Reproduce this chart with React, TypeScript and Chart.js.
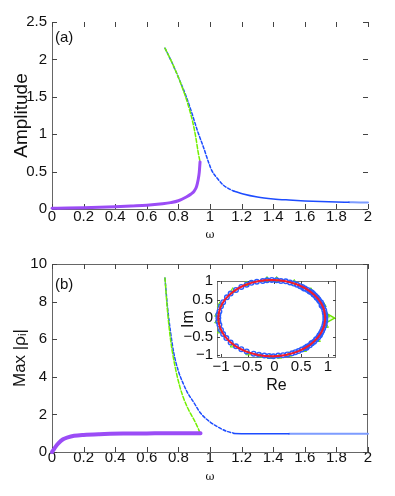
import React, { useEffect, useRef } from 'react';
import { Chart, registerables } from 'chart.js';
Chart.register(...registerables);

// ---------- tick values ----------
const omegaTicks = [0, 0.2, 0.4, 0.6, 0.8, 1, 1.2, 1.4, 1.6, 1.8, 2];
const ampTicks = [0, 0.5, 1, 1.5, 2, 2.5];
const rhoTicks = [0, 2, 4, 6, 8, 10];
const reTicks = [-1, -0.5, 0, 0.5, 1];
const imTicks = [-1, -0.5, 0, 0.5, 1];

// ---------- panel (a) ----------
const aPurpleW = [0, 0.1, 0.2, 0.3, 0.4, 0.5, 0.6, 0.7, 0.75, 0.8, 0.85, 0.88, 0.9, 0.915, 0.925, 0.932, 0.937];
const aPurpleAmp = [0.01, 0.012, 0.016, 0.022, 0.03, 0.04, 0.05, 0.07, 0.085, 0.11, 0.16, 0.2, 0.24, 0.3, 0.39, 0.49, 0.63];
const aGreenW = [0.715, 0.75, 0.79, 0.82, 0.85, 0.87, 0.89, 0.91, 0.925, 0.937];
const aGreenAmp = [2.15, 2.0, 1.81, 1.65, 1.47, 1.33, 1.17, 0.96, 0.76, 0.63];
const aBlueDashW = [0.715, 0.75, 0.79, 0.82, 0.85, 0.884, 0.92, 0.958, 0.99, 1.01, 1.05, 1.084, 1.12, 1.15];
const aBlueDashAmp = [2.15, 2.0, 1.81, 1.66, 1.5, 1.29, 1.05, 0.83, 0.63, 0.52, 0.4, 0.32, 0.27, 0.24];
const aBlueW = [1.15, 1.21, 1.3, 1.4, 1.5, 1.6, 1.7, 1.8, 1.88];
const aBlueAmp = [0.24, 0.2, 0.16, 0.135, 0.12, 0.108, 0.1, 0.094, 0.09];
const aBlueLightW = [1.88, 1.95, 2.0];
const aBlueLightAmp = [0.09, 0.087, 0.086];

// ---------- panel (b) ----------
const bPurpleW = [0, 0.01, 0.02, 0.04, 0.07, 0.1, 0.14, 0.2, 0.3, 0.45, 0.6, 0.75, 0.94];
const bPurpleRho = [0, 0.12, 0.25, 0.46, 0.68, 0.78, 0.86, 0.91, 0.95, 0.98, 0.99, 1.0, 1.0];
const bGreenW = [0.715, 0.73, 0.75, 0.78, 0.81, 0.84, 0.87, 0.9, 0.92, 0.94];
const bGreenRho = [9.25, 7.6, 6.0, 4.5, 3.45, 2.7, 2.15, 1.7, 1.35, 0.95];
const bBlueDashW = [0.715, 0.73, 0.75, 0.77, 0.8, 0.83, 0.855, 0.9, 0.94, 1.0, 1.05, 1.1, 1.15];
const bBlueDashRho = [9.25, 7.8, 6.4, 5.3, 4.3, 3.65, 3.2, 2.6, 2.07, 1.6, 1.33, 1.12, 1.0];
const bBlueW = [1.15, 1.3, 1.5];
const bBlueRho = [0.98, 0.97, 0.97];
const bBlueLightW = [1.5, 1.75, 2.0];
const bBlueLightRho = [0.97, 0.97, 0.97];

// ---------- inset (complex plane) ----------
const redRe = [0.95, 0.916, 0.816, 0.657, 0.45, 0.209, -0.05, -0.309, -0.55, -0.757, -0.916, -1.016, -1.05, -1.016, -0.916, -0.757, -0.55, -0.309, -0.05, 0.209, 0.45, 0.657, 0.816, 0.916, 0.95];
const redIm = [0, 0.267, 0.515, 0.728, 0.892, 0.995, 1.03, 0.995, 0.892, 0.728, 0.515, 0.267, 0, -0.267, -0.515, -0.728, -0.892, -0.995, -1.03, -0.995, -0.892, -0.728, -0.515, -0.267, 0];
const blueRe = [
  0.95, 0.94, 0.91, 0.87, 0.82, 0.76, 0.7, 0.62, 0.52, 0.42, 0.29, 0.12, -0.05, -0.22, -0.43, -0.62, -0.82, -0.96, -1.03, -1.05,
  -1.03, -0.96, -0.82, -0.62, -0.39, -0.19, -0.02, 0.16, 0.33, 0.45, 0.57, 0.66, 0.74, 0.82, 0.87, 0.91, 0.94, 0.88, 0.79, 0.73,
  0.66, 0.55, 0.6, 0.7, 0.78, 0.85,
  0.95, 0.93, 0.89, 0.84, 0.79, 0.73, 0.66, 0.57, 0.48, 0.36, 0.21, 0.04, -0.14, -0.33, -0.52, -0.72, -0.89, -1.0, -1.05, -1.05,
  -1.0, -0.9, -0.72, -0.52, -0.29, -0.1, 0.07, 0.24, 0.39, 0.51, 0.61, 0.69, 0.78, 0.84, 0.89, 0.93, 0.95,
];
const blueIm = [
  0, 0.14, 0.29, 0.42, 0.51, 0.6, 0.69, 0.76, 0.84, 0.9, 0.96, 1.0, 1.03, 1.0, 0.95, 0.84, 0.66, 0.43, 0.18, 0,
  -0.18, -0.43, -0.66, -0.84, -0.96, -1.01, -1.03, -1.0, -0.95, -0.89, -0.81, -0.73, -0.64, -0.52, -0.4, -0.28, -0.14, 0.34, 0.55, 0.64,
  0.72, 0.8, -0.8, -0.68, -0.58, -0.46,
  0.07, 0.21, 0.35, 0.46, 0.56, 0.64, 0.72, 0.8, 0.86, 0.93, 0.99, 1.02, 1.02, 0.98, 0.9, 0.76, 0.56, 0.32, 0.09, -0.09,
  -0.32, -0.54, -0.76, -0.9, -0.99, -1.02, -1.01, -0.98, -0.92, -0.85, -0.77, -0.68, -0.57, -0.46, -0.35, -0.21, -0.07,
];
const greenRe = [0.98, 0.92, 0.68, 0.37, 0.04, -0.14, -0.53, -0.78, -1.02, -1.07, -1.07, -1.02, -0.78, -0.49, -0.26, -0.09, 0.09, 0.27, 0.55, 0.81, 0.96];
const greenIm = [0.07, 0.35, 0.74, 0.96, 1.04, 1.04, 0.92, 0.74, 0.36, 0.09, -0.09, -0.36, -0.74, -0.95, -1.02, -1.05, -1.04, -0.99, -0.86, -0.59, -0.21];
const greenBigRe = [1.03];
const greenBigIm = [0];

// ---------- helpers ----------
const FONT = "'Liberation Sans', Arial, sans-serif";
const TEXT = '#111';
const PURPLE = '#9b4cf6';
const GREEN = '#72f000';
const BLUE = '#1d4cff';
const LIGHTBLUE = '#7d9cff';
const RED = '#f21c2c';

const pts = (xs: number[], ys: number[]) => xs.map((x, i) => ({ x, y: ys[i] }));

const line = (xs: number[], ys: number[], color: string, width: number, dash: number[] = []) => ({
  data: pts(xs, ys),
  borderColor: color,
  backgroundColor: color,
  borderWidth: width,
  borderDash: dash,
  borderCapStyle: 'round',
  pointRadius: 0,
  fill: false,
  cubicInterpolationMode: 'monotone' as const,
  clip: false as any,
});

const fmt = (v: number) => String(v).replace('-', '\u2212');

function frame(len: number, box: boolean, ticksOnTopRight: boolean, color = '#666') {
  return {
    id: 'frame',
    beforeDatasetsDraw(chart: any) {
      const { ctx, chartArea, scales } = chart;
      const { left, right, top, bottom } = chartArea;
      const x = scales.x, y = scales.y;
      ctx.save();
      ctx.strokeStyle = color;
      ctx.lineWidth = 1;
      ctx.beginPath();
      ctx.moveTo(left + 0.5, top);
      ctx.lineTo(left + 0.5, bottom + 0.5);
      ctx.lineTo(right, bottom + 0.5);
      if (box) {
        ctx.moveTo(left, top + 0.5);
        ctx.lineTo(right - 0.5, top + 0.5);
        ctx.lineTo(right - 0.5, bottom);
      }
      ctx.stroke();
      ctx.strokeStyle = '#444';
      ctx.beginPath();
      x.ticks.forEach((t: any) => {
        const px = Math.round(x.getPixelForValue(t.value)) + 0.5;
        ctx.moveTo(px, bottom);
        ctx.lineTo(px, bottom - len);
        if (ticksOnTopRight) {
          ctx.moveTo(px, top);
          ctx.lineTo(px, top + len);
        }
      });
      y.ticks.forEach((t: any) => {
        const py = Math.round(y.getPixelForValue(t.value)) + 0.5;
        ctx.moveTo(left, py);
        ctx.lineTo(left + len, py);
        if (ticksOnTopRight) {
          ctx.moveTo(right, py);
          ctx.lineTo(right - len, py);
        }
      });
      ctx.stroke();
      ctx.restore();
    },
  };
}

function panelLabel(text: string, x: number, y: number) {
  return {
    id: 'panelLabel',
    afterDraw(chart: any) {
      const ctx = chart.ctx;
      ctx.save();
      ctx.font = `15px ${FONT}`;
      ctx.fillStyle = TEXT;
      ctx.textBaseline = 'middle';
      ctx.textAlign = 'left';
      ctx.fillText(text, x, y);
      ctx.restore();
    },
  };
}

function mainConfig(opts: {
  datasets: any[];
  yMax: number;
  yTicks: number[];
  yTitle: string;
  yTitleSize: number;
  top: number;
  xAxisH: number;
  xTickPad: number;
  xTitlePad: number;
  label: string;
  labelY: number;
  box: boolean;
}) {
  return {
    type: 'line',
    data: { datasets: opts.datasets },
    options: {
      animation: false,
      responsive: false,
      maintainAspectRatio: false,
      events: [],
      layout: { padding: { left: 0, right: 27, top: opts.top, bottom: 0 } },
      plugins: { legend: { display: false }, tooltip: { enabled: false } },
      scales: {
        x: {
          type: 'linear',
          min: 0,
          max: 2,
          afterBuildTicks: (s: any) => { s.ticks = omegaTicks.map((v) => ({ value: v })); },
          afterFit: (s: any) => { s.height = opts.xAxisH; },
          grid: { display: false, drawTicks: false },
          border: { display: false },
          ticks: {
            padding: opts.xTickPad,
            autoSkip: false,
            maxRotation: 0,
            color: TEXT,
            font: { family: FONT, size: 15 },
            callback: (v: any) => fmt(v),
          },
          title: {
            display: true,
            text: 'ω',
            color: TEXT,
            font: { family: "'DejaVu Serif', serif", size: 11 },
            padding: { top: 0, bottom: opts.xTitlePad },
          },
        },
        y: {
          type: 'linear',
          min: 0,
          max: opts.yMax,
          afterBuildTicks: (s: any) => { s.ticks = opts.yTicks.map((v) => ({ value: v })); },
          afterFit: (s: any) => { s.width = 52; },
          grid: { display: false, drawTicks: false },
          border: { display: false },
          ticks: {
            padding: 5,
            autoSkip: false,
            color: TEXT,
            font: { family: FONT, size: 15 },
            callback: (v: any) => fmt(v),
          },
          title: {
            display: true,
            text: opts.yTitle,
            color: TEXT,
            font: { family: FONT, size: opts.yTitleSize },
            padding: { top: 10, bottom: 0 },
          },
        },
      },
    },
    plugins: [frame(5, opts.box, true), panelLabel(opts.label, 55, opts.labelY)],
  } as any;
}

function insetConfig() {
  return {
    type: 'scatter',
    data: {
      datasets: [
        {
          data: pts(redRe, redIm),
          showLine: true,
          borderColor: RED,
          borderWidth: 2,
          pointRadius: 0,
          tension: 0.4,
          clip: false,
        },
        {
          data: pts(blueRe, blueIm),
          pointStyle: 'circle',
          pointRadius: 2.3,
          pointBorderWidth: 1.4,
          borderColor: '#2a5cff',
          backgroundColor: 'rgba(0,0,0,0)',
          clip: false,
        },
        {
          data: pts(greenRe, greenIm),
          pointStyle: 'triangle',
          pointRadius: 3,
          pointBorderWidth: 1,
          borderColor: '#6ee600',
          backgroundColor: 'rgba(150,255,60,0.7)',
          clip: false,
        },
        {
          data: pts(greenBigRe, greenBigIm),
          pointStyle: 'triangle',
          pointRotation: 90,
          pointRadius: 5,
          pointBorderWidth: 1.4,
          borderColor: '#6ee600',
          backgroundColor: 'rgba(200,255,150,0.5)',
          clip: false,
        },
      ],
    },
    options: {
      animation: false,
      responsive: false,
      maintainAspectRatio: false,
      events: [],
      layout: { padding: { left: 0, right: 14, top: 13, bottom: 0 } },
      plugins: { legend: { display: false }, tooltip: { enabled: false } },
      scales: {
        x: {
          type: 'linear',
          min: -1.075,
          max: 1.15,
          afterBuildTicks: (s: any) => { s.ticks = reTicks.map((v) => ({ value: v })); },
          afterFit: (s: any) => { s.height = 41; },
          grid: { display: false, drawTicks: false },
          border: { display: false },
          ticks: {
            padding: 1,
            autoSkip: false,
            maxRotation: 0,
            color: TEXT,
            font: { family: FONT, size: 15 },
            callback: (v: any) => fmt(v),
          },
          title: {
            display: true,
            text: 'Re',
            color: TEXT,
            font: { family: FONT, size: 16 },
            padding: { top: 0, bottom: 3 },
          },
        },
        y: {
          type: 'linear',
          min: -1.05,
          max: 1.0,
          afterBuildTicks: (s: any) => { s.ticks = imTicks.map((v) => ({ value: v })); },
          afterFit: (s: any) => { s.width = 57; },
          grid: { display: false, drawTicks: false },
          border: { display: false },
          ticks: {
            padding: 4,
            autoSkip: false,
            color: TEXT,
            font: { family: FONT, size: 15 },
            callback: (v: any) => fmt(v),
          },
          title: {
            display: true,
            text: 'Im',
            color: TEXT,
            font: { family: FONT, size: 16 },
            padding: { top: 19, bottom: 0 },
          },
        },
      },
    },
    plugins: [frame(3, true, true, '#777')],
  } as any;
}

export default function App() {
  const aRef = useRef<HTMLCanvasElement>(null);
  const bRef = useRef<HTMLCanvasElement>(null);
  const cRef = useRef<HTMLCanvasElement>(null);

  useEffect(() => {
    const a = new Chart(
      aRef.current!,
      mainConfig({
        datasets: [
          line(aPurpleW, aPurpleAmp, PURPLE, 3),
          line(aGreenW, aGreenAmp, GREEN, 1.5, [4, 2]),
          line(aBlueDashW, aBlueDashAmp, BLUE, 1.5, [3, 2]),
          line(aBlueW, aBlueAmp, BLUE, 1.5),
          line(aBlueLightW, aBlueLightAmp, LIGHTBLUE, 2),
        ],
        yMax: 2.5,
        yTicks: ampTicks,
        yTitle: 'Amplitude',
        yTitleSize: 19,
        top: 22,
        xAxisH: 31,
        xTickPad: -1,
        xTitlePad: -2,
        label: '(a)',
        labelY: 38,
        box: false,
      })
    );
    const b = new Chart(
      bRef.current!,
      mainConfig({
        datasets: [
          line(bPurpleW, bPurpleRho, PURPLE, 4),
          line(bGreenW, bGreenRho, GREEN, 1.5, [4, 2]),
          line(bBlueDashW, bBlueDashRho, BLUE, 1.5, [3, 2]),
          line(bBlueW, bBlueRho, BLUE, 1.5),
          line(bBlueLightW, bBlueLightRho, LIGHTBLUE, 2),
        ],
        yMax: 10,
        yTicks: rhoTicks,
        yTitle: 'Max |ρᵢ|',
        yTitleSize: 17,
        top: 24,
        xAxisH: 44,
        xTickPad: -3,
        xTitlePad: 12,
        label: '(b)',
        labelY: 45,
        box: true,
      })
    );
    const c = new Chart(cRef.current!, insetConfig());
    return () => {
      a.destroy();
      b.destroy();
      c.destroy();
    };
  }, []);

  return (
    <div style={{ position: 'absolute', left: 0, top: 0, width: 395, height: 496, background: '#fff' }}>
      <canvas ref={aRef} width={395} height={240} style={{ position: 'absolute', left: 0, top: 0, width: 395, height: 240 }} />
      <canvas ref={bRef} width={395} height={256} style={{ position: 'absolute', left: 0, top: 240, width: 395, height: 256 }} />
      <canvas ref={cRef} width={190} height={130} style={{ position: 'absolute', left: 160, top: 268, width: 190, height: 130 }} />
    </div>
  );
}
